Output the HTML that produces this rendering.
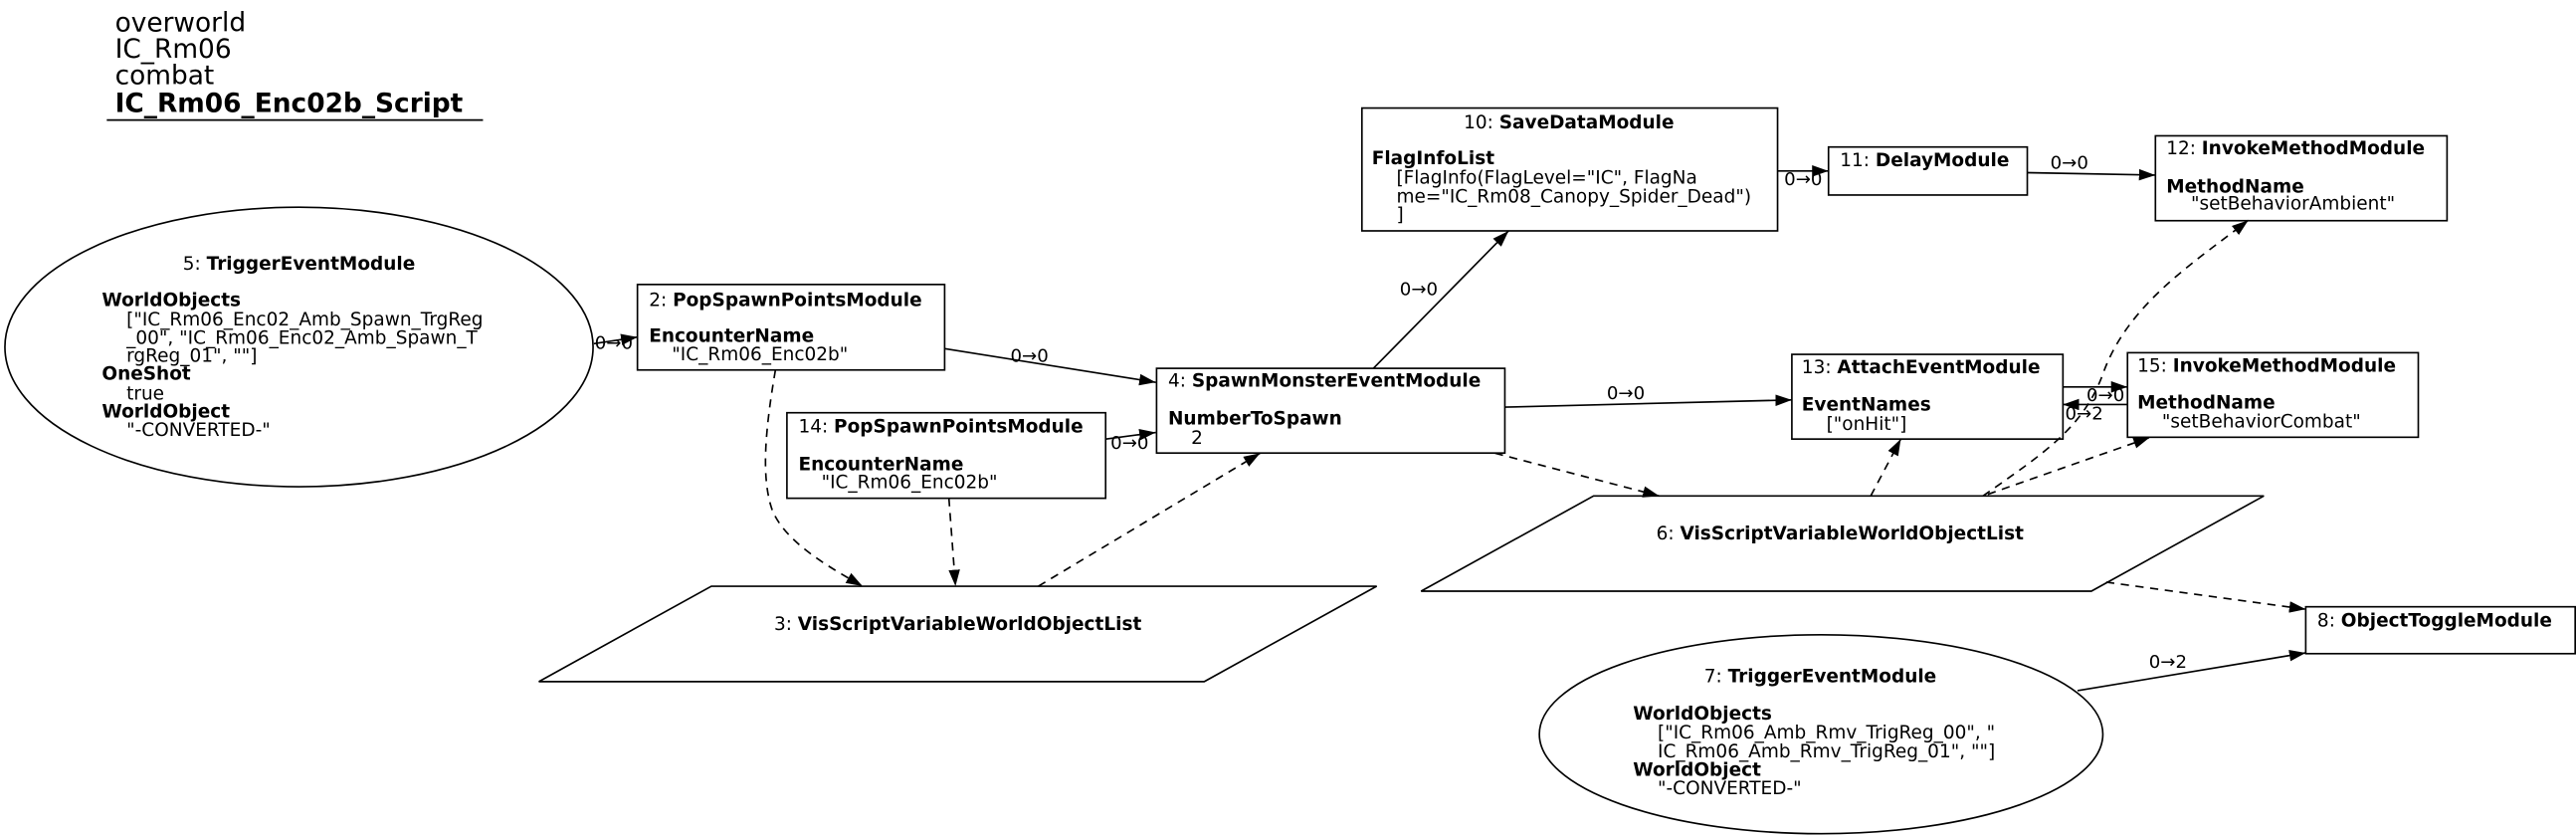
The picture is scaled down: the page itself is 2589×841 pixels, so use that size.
<!DOCTYPE html>
<html><head><meta charset="utf-8"><style>
html,body{margin:0;padding:0;background:#fff;}
svg{display:block;}
text{font-family:"DejaVu Sans","Liberation Sans",sans-serif;font-size:11.2px;fill:#000;}
.b{font-weight:bold;}
.t{font-size:16px;}
.l{font-size:11px;}
</style></head><body>
<svg width="2589" height="841" viewBox="0 0 1568 509" preserveAspectRatio="none" xmlns="http://www.w3.org/2000/svg">
<defs>
<marker id="a" viewBox="0 0 10 7" refX="10" refY="3.5" markerWidth="10" markerHeight="7" markerUnits="userSpaceOnUse" orient="auto">
<path d="M0,0 L10,3.5 L0,7 z" fill="#000"/>
</marker>
</defs>
<g fill="none" stroke="#000" stroke-width="1">
<line x1="65" y1="73" x2="294" y2="73"/>
<ellipse cx="182" cy="211" rx="179" ry="85"/>
<rect x="388" y="173" width="187" height="52"/>
<rect x="479" y="251" width="194" height="52"/>
<rect x="704" y="224" width="212" height="51.5"/>
<polygon points="433,356.5 838,356.5 733,414.5 328,414.5"/>
<rect x="829" y="65.7" width="253" height="74.7"/>
<rect x="1113" y="89.4" width="121" height="29.2"/>
<rect x="1312" y="82.6" width="177.5" height="51.6"/>
<rect x="1090.7" y="215.5" width="165" height="51.5"/>
<rect x="1295" y="214.5" width="177" height="51.4"/>
<polygon points="970,301.6 1378,301.6 1273,359.5 865,359.5"/>
<rect x="1403.5" y="369" width="164" height="28.5"/>
<ellipse cx="1108.5" cy="446.5" rx="171.5" ry="60.5"/>
<line x1="361.5" y1="209" x2="388" y2="205" marker-end="url(#a)"/>
<line x1="575" y1="212" x2="703.5" y2="232.5" marker-end="url(#a)"/>
<line x1="673" y1="267" x2="703.5" y2="263" marker-end="url(#a)"/>
<line x1="836" y1="224" x2="918.3" y2="140.4" marker-end="url(#a)"/>
<line x1="1082" y1="104" x2="1113" y2="104" marker-end="url(#a)"/>
<line x1="1234" y1="105" x2="1312" y2="106.5" marker-end="url(#a)"/>
<line x1="916" y1="247.6" x2="1090.7" y2="243.2" marker-end="url(#a)"/>
<line x1="1255.6" y1="235.3" x2="1295" y2="235.3" marker-end="url(#a)"/>
<line x1="1295" y1="246" x2="1255.6" y2="246" marker-end="url(#a)"/>
<line x1="1264.6" y1="420" x2="1403.5" y2="397" marker-end="url(#a)"/>
<g stroke-dasharray="5,4">
<path d="M472,225 C466,260 463,290 470,310 C478,330 505,345 525,356.5" marker-end="url(#a)"/>
<line x1="577.6" y1="303" x2="581.6" y2="356.5" marker-end="url(#a)"/>
<line x1="632" y1="356.5" x2="767" y2="275.6" marker-end="url(#a)"/>
<line x1="910" y1="275.6" x2="1010" y2="301.6" marker-end="url(#a)"/>
<line x1="1138.7" y1="301.6" x2="1157" y2="267" marker-end="url(#a)"/>
<path d="M1207,301.6 C1245,275 1268,260 1280,227.5 C1295,185 1335,160 1368.5,134" marker-end="url(#a)"/>
<line x1="1210" y1="300.6" x2="1308.6" y2="266" marker-end="url(#a)"/>
<line x1="1282" y1="354" x2="1403.5" y2="370.5" marker-end="url(#a)"/>
</g>
</g>
<text class="t" x="70" y="19">overworld</text>
<text class="t" x="70" y="35">IC_Rm06</text>
<text class="t" x="70" y="51">combat</text>
<text class="t b" x="70" y="68">IC_Rm06_Enc02b_Script</text>
<text x="182" y="164" text-anchor="middle">5: <tspan class="b">TriggerEventModule</tspan></text>
<text class="b" x="62" y="186">WorldObjects</text>
<text x="77" y="198">["IC_Rm06_Enc02_Amb_Spawn_TrgReg</text>
<text x="77" y="209">_00", "IC_Rm06_Enc02_Amb_Spawn_T</text>
<text x="77" y="220">rgReg_01", ""]</text>
<text class="b" x="62" y="231">OneShot</text>
<text x="77" y="243">true</text>
<text class="b" x="62" y="254">WorldObject</text>
<text x="77" y="265">"-CONVERTED-"</text>
<text x="395" y="186">2: <tspan class="b">PopSpawnPointsModule</tspan></text>
<text class="b" x="395" y="208">EncounterName</text>
<text x="409" y="219">"IC_Rm06_Enc02b"</text>
<text x="486" y="263">14: <tspan class="b">PopSpawnPointsModule</tspan></text>
<text class="b" x="486" y="286">EncounterName</text>
<text x="500" y="297">"IC_Rm06_Enc02b"</text>
<text x="711" y="235">4: <tspan class="b">SpawnMonsterEventModule</tspan></text>
<text class="b" x="711" y="258">NumberToSpawn</text>
<text x="725" y="270">2</text>
<text x="583" y="383" text-anchor="middle">3: <tspan class="b">VisScriptVariableWorldObjectList</tspan></text>
<text x="955" y="78" text-anchor="middle">10: <tspan class="b">SaveDataModule</tspan></text>
<text class="b" x="835" y="100">FlagInfoList</text>
<text x="850" y="111.6">[FlagInfo(FlagLevel="IC", FlagNa</text>
<text x="850" y="123.3">me="IC_Rm08_Canopy_Spider_Dead")</text>
<text x="850" y="134">]</text>
<text x="1120" y="101">11: <tspan class="b">DelayModule</tspan></text>
<text x="1318.6" y="93.7">12: <tspan class="b">InvokeMethodModule</tspan></text>
<text class="b" x="1318.6" y="117">MethodName</text>
<text x="1333.6" y="127.5">"setBehaviorAmbient"</text>
<text x="1096.7" y="227">13: <tspan class="b">AttachEventModule</tspan></text>
<text class="b" x="1096.7" y="249.7">EventNames</text>
<text x="1111.7" y="261.4">["onHit"]</text>
<text x="1301" y="226">15: <tspan class="b">InvokeMethodModule</tspan></text>
<text class="b" x="1301" y="248.4">MethodName</text>
<text x="1316" y="260">"setBehaviorCombat"</text>
<text x="1120" y="328" text-anchor="middle">6: <tspan class="b">VisScriptVariableWorldObjectList</tspan></text>
<text x="1410.5" y="381">8: <tspan class="b">ObjectToggleModule</tspan></text>
<text x="1108" y="415" text-anchor="middle">7: <tspan class="b">TriggerEventModule</tspan></text>
<text class="b" x="994" y="437.6">WorldObjects</text>
<text x="1009" y="449">["IC_Rm06_Amb_Rmv_TrigReg_00", "</text>
<text x="1009" y="460.6">IC_Rm06_Amb_Rmv_TrigReg_01", ""]</text>
<text class="b" x="994" y="471.7">WorldObject</text>
<text x="1009" y="483">"-CONVERTED-"</text>
<text class="l" x="362" y="212">0→0</text>
<text class="l" x="615" y="220">0→0</text>
<text class="l" x="676" y="273">0→0</text>
<text class="l" x="852" y="179.5">0→0</text>
<text class="l" x="1086" y="112.5">0→0</text>
<text class="l" x="1248" y="102.5">0→0</text>
<text class="l" x="978" y="242.6">0→0</text>
<text class="l" x="1270" y="244">0→0</text>
<text class="l" x="1257" y="255">0→2</text>
<text class="l" x="1308" y="406">0→2</text>
</svg>
</body></html>
